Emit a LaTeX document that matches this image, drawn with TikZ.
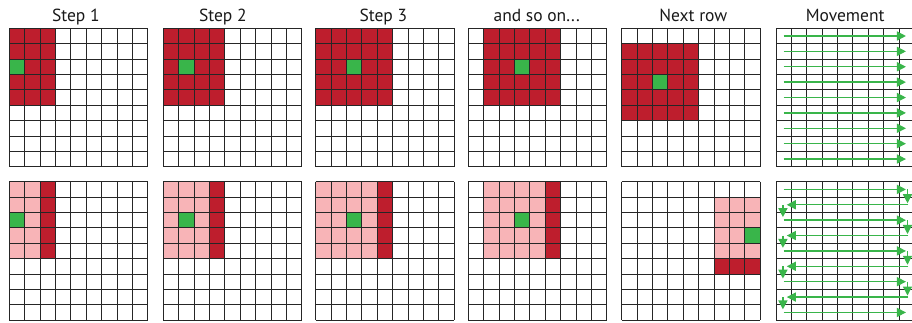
\documentclass[tikz,border=0pt]{standalone}
\usepackage{fontspec}
\setmainfont{PT Sans}
\usetikzlibrary{arrows.meta}
\definecolor{cred}{HTML}{BE1E2D}
\definecolor{cpink}{HTML}{F8B4B7}
\definecolor{cgreen}{HTML}{39B54A}
\tikzset{
  gridline/.style={draw=black!85, line width=0.9pt},
  redcell/.style={fill=cred},
  pinkcell/.style={fill=cpink},
  greencell/.style={fill=cgreen},
  title/.style={anchor=base, font=\fontsize{17.5}{20}\selectfont, text=black!90, inner sep=0pt},
  mv/.style={draw=cgreen, line width=1.4pt, -{Triangle[length=9pt,width=9pt]}},
  cellgrid/.style={x=15.38pt, y=-15.38pt},
}
\newcommand\panelgrid{\foreach \k in {0,...,9}{\draw[gridline] (\k,0) -- (\k,9); \draw[gridline] (0,\k) -- (9,\k);}}
\begin{document}
\begin{tikzpicture}
\useasboundingbox (0,0) rectangle (912pt,-322pt);
% titles
\node[title] (t1) at (75.8pt,-21pt) {Step 1};
\node[title] (t2) at (222.8pt,-21pt) {Step 2};
\node[title] (t3) at (383.3pt,-21pt) {Step 3};
\node[title] (t4) at (536.7pt,-21pt) {and so on...};
\node[title] (t5) at (693.3pt,-21pt) {Next row};
\node[title] (t6) at (845.2pt,-21pt) {Movement};
% ---------- top row ----------
\begin{scope}[cellgrid, xshift=9.3pt, yshift=-28.3pt]
  \fill[redcell] (0,0) rectangle (3,5);
  \fill[greencell] (0,2) rectangle (1,3);
  \panelgrid
\end{scope}
\begin{scope}[cellgrid, xshift=163.3pt, yshift=-28.3pt]
  \fill[redcell] (0,0) rectangle (4,5);
  \fill[greencell] (1,2) rectangle (2,3);
  \panelgrid
\end{scope}
\begin{scope}[cellgrid, xshift=315.7pt, yshift=-28.3pt]
  \fill[redcell] (0,0) rectangle (5,5);
  \fill[greencell] (2,2) rectangle (3,3);
  \panelgrid
\end{scope}
\begin{scope}[cellgrid, xshift=468.3pt, yshift=-28.3pt]
  \fill[redcell] (1,0) rectangle (6,5);
  \fill[greencell] (3,2) rectangle (4,3);
  \panelgrid
\end{scope}
\begin{scope}[cellgrid, xshift=621.7pt, yshift=-28.3pt]
  \fill[redcell] (0,1) rectangle (5,6);
  \fill[greencell] (2,3) rectangle (3,4);
  \panelgrid
\end{scope}
\begin{scope}[cellgrid, xshift=776pt, yshift=-28.3pt]
  \panelgrid
  \foreach \r in {0,...,8}{
    \draw[mv] (0.5,\r+0.5) -- (8.45,\r+0.5);
  }
\end{scope}
% ---------- bottom row ----------
\begin{scope}[cellgrid, xshift=9.3pt, yshift=-181.7pt]
  \fill[pinkcell] (0,0) rectangle (2,5);
  \fill[redcell] (2,0) rectangle (3,5);
  \fill[greencell] (0,2) rectangle (1,3);
  \panelgrid
\end{scope}
\begin{scope}[cellgrid, xshift=163.3pt, yshift=-181.7pt]
  \fill[pinkcell] (0,0) rectangle (3,5);
  \fill[redcell] (3,0) rectangle (4,5);
  \fill[greencell] (1,2) rectangle (2,3);
  \panelgrid
\end{scope}
\begin{scope}[cellgrid, xshift=315.7pt, yshift=-181.7pt]
  \fill[pinkcell] (0,0) rectangle (4,5);
  \fill[redcell] (4,0) rectangle (5,5);
  \fill[greencell] (2,2) rectangle (3,3);
  \panelgrid
\end{scope}
\begin{scope}[cellgrid, xshift=468.3pt, yshift=-181.7pt]
  \fill[pinkcell] (1,0) rectangle (5,5);
  \fill[redcell] (5,0) rectangle (6,5);
  \fill[greencell] (3,2) rectangle (4,3);
  \panelgrid
\end{scope}
\begin{scope}[cellgrid, xshift=621.7pt, yshift=-181.7pt]
  \fill[pinkcell] (6,1) rectangle (9,5);
  \fill[redcell] (6,5) rectangle (9,6);
  \fill[greencell] (8,3) rectangle (9,4);
  \panelgrid
\end{scope}
\begin{scope}[cellgrid, xshift=776pt, yshift=-181.7pt]
  \panelgrid
  \foreach \r in {0,2,4,6,8}{
    \draw[mv] (0.5,\r+0.5) -- (8.45,\r+0.5);
  }
  \foreach \r in {0,2,4,6}{
    \draw[mv] (8.55,\r+0.5) -- (8.55,\r+1.4);
  }
  \foreach \r in {1,3,5,7}{
    \draw[mv] (8.6,\r+0.5) -- (0.7,\r+0.5);
    \draw[mv] (0.45,\r+0.5) -- (0.45,\r+1.3);
  }
\end{scope}
\end{tikzpicture}
\end{document}
